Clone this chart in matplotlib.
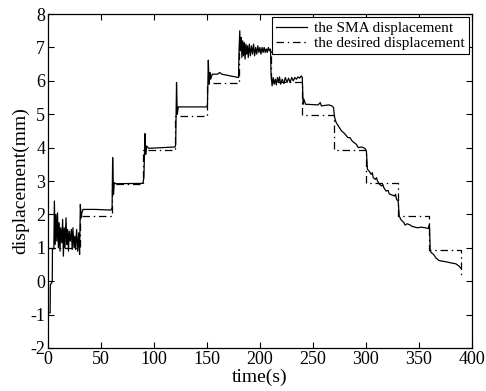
import matplotlib
matplotlib.use("Agg")
import matplotlib.pyplot as plt

plt.rcParams["font.family"] = ["Liberation Serif", "DejaVu Serif"]
plt.rcParams["axes.unicode_minus"] = False

# desired displacement: step levels (held until next time)
desired_t = [0, 30, 60, 90, 120, 150, 180, 210, 240, 270, 300, 330, 360, 390]
desired_y = [1.0, 1.95, 2.92, 3.92, 4.95, 5.95, 6.95, 5.96, 4.97, 3.92, 2.95, 1.95, 0.93, 0.15]

sma_points = [
    (0, -0.95), (2, -0.95), (2.2, -0.1), (3.5, -0.05), (4, 0.0), (4.2, 0.97), (5.5, 0.97),
    (6, 2.4), (6.8, 1.1), (7.5, 2.0), (8.3, 1.2), (9, 2.05), (9.8, 1.0), (10.5, 1.75),
    (11.3, 0.9), (12, 1.6), (13, 1.15), (13.8, 1.85), (14.5, 0.75), (15.3, 1.6), (16, 1.0),
    (17, 1.9), (17.8, 1.1), (18.5, 1.55), (19.3, 0.9), (20, 1.5), (21, 1.2), (22, 1.55),
    (22.8, 0.95), (23.5, 1.6), (24.5, 1.0), (25.3, 1.35), (26, 0.95), (27, 1.55), (28, 0.9),
    (29, 1.45), (29.8, 0.8), (30.5, 2.3), (31.3, 1.9), (32, 2.05), (33, 2.15), (45, 2.15),
    (59.5, 2.13), (60.5, 2.2), (61, 3.7), (61.8, 2.6), (62.5, 2.95), (64, 2.92),
    (89.5, 2.93), (90.5, 3.1), (91.5, 4.42), (92.2, 3.8), (93, 4.05), (95, 3.98),
    (120, 4.02), (120.5, 4.1), (121.3, 5.95), (122, 5.0), (123, 5.22), (150, 5.22),
    (150.5, 5.3), (151.3, 6.62), (152, 5.9), (152.8, 6.25), (153.5, 6.05), (155, 6.2),
    (160, 6.2), (162, 6.25), (164, 6.2), (179.8, 6.1), (180.3, 6.9), (181, 7.5),
    (181.6, 6.9), (182.3, 7.3), (183, 6.7), (183.8, 7.2), (184.5, 6.75), (185.3, 7.15),
    (186, 6.65), (186.8, 7.1), (187.5, 6.8), (188.3, 7.05), (189, 6.7), (190, 7.1),
    (191, 6.75), (192, 7.05), (193, 6.8), (194, 7.1), (195, 6.75), (196, 7.0), (197, 6.8),
    (198, 7.05), (199, 6.85), (200, 7.0), (201, 6.8), (202, 7.0), (203, 6.85), (204, 7.0),
    (205, 6.85), (206, 6.95), (207, 6.85), (208, 7.0), (209, 6.9), (210, 6.95),
    (210.5, 6.2), (211.5, 5.85), (212.5, 6.1), (213.5, 5.9), (214.5, 6.05), (215.5, 5.88),
    (216.5, 6.1), (217.5, 5.95), (218.5, 6.12), (219.5, 5.9), (221, 6.05), (222.5, 5.92),
    (224, 6.1), (225.5, 5.95), (227, 6.08), (228.5, 5.95), (230, 6.1), (231.5, 6.0),
    (233, 6.1), (234.5, 6.05), (236, 6.12), (237.5, 6.08), (239, 6.15), (240, 6.1),
    (240.8, 5.3), (241.5, 5.45), (243, 5.3), (255, 5.28), (257, 5.35), (258, 5.25),
    (265, 5.28), (268, 5.25), (269.5, 5.2), (270.5, 4.9), (272, 4.75), (275, 4.6),
    (277, 4.5), (279, 4.45), (281, 4.38), (283, 4.3), (285, 4.3), (287, 4.2), (289, 4.15),
    (291, 4.1), (293, 4.0), (296, 4.02), (299, 3.98), (300.5, 3.9), (301.5, 3.35),
    (303, 3.3), (305, 3.2), (306, 3.25), (307, 3.1), (309, 3.05), (310, 3.1), (311, 3.0),
    (313, 2.9), (315, 2.85), (316, 2.9), (317, 2.8), (319, 2.7), (321, 2.72), (322, 2.62),
    (323, 2.6), (325, 2.58), (327, 2.55), (328, 2.6), (329, 2.45), (330.5, 2.4),
    (331.5, 1.95), (333, 1.85), (336, 1.75), (337, 1.68), (339, 1.72), (342, 1.68),
    (343, 1.65), (346, 1.62), (349, 1.6), (352, 1.62), (356, 1.6), (359, 1.58), (360, 1.7),
    (360.8, 0.9), (362, 0.85), (364, 0.8), (365, 0.75), (366, 0.7), (369, 0.62),
    (372, 0.6), (376, 0.58), (380, 0.55), (385, 0.52), (388, 0.45), (390, 0.38),
]
sma_t = [p[0] for p in sma_points]
sma_y = [p[1] for p in sma_points]

fig = plt.figure(figsize=(4.86, 3.91), dpi=100)
ax = fig.add_axes([0.0988, 0.110, 0.872, 0.854])

ax.plot(sma_t, sma_y, "-", color="black", lw=0.9, label="the SMA displacement")
ax.step(desired_t, desired_y, where="post", color="black", lw=0.9,
        dashes=[6, 3, 1.2, 3], label="the desired displacement")

ax.set_xlim(0, 400)
ax.set_ylim(-2, 8)
ax.set_xticks(range(0, 401, 50))
ax.set_yticks(range(-2, 9))
ax.tick_params(direction="in", top=True, right=True, length=4, width=0.8, labelsize=13, pad=2)
for s in ax.spines.values():
    s.set_linewidth(0.9)

ax.set_xlabel("time(s)", fontsize=14, labelpad=1)
ax.set_ylabel("displacement(mm)", fontsize=14, labelpad=1)

leg = ax.legend(loc="upper right", fontsize=11, fancybox=False, framealpha=1,
                edgecolor="black", handlelength=2.0, handletextpad=0.45,
                borderpad=0.3, labelspacing=0.05, borderaxespad=0.2)
leg.get_frame().set_linewidth(0.8)

fig.savefig("out.png", dpi=100)
